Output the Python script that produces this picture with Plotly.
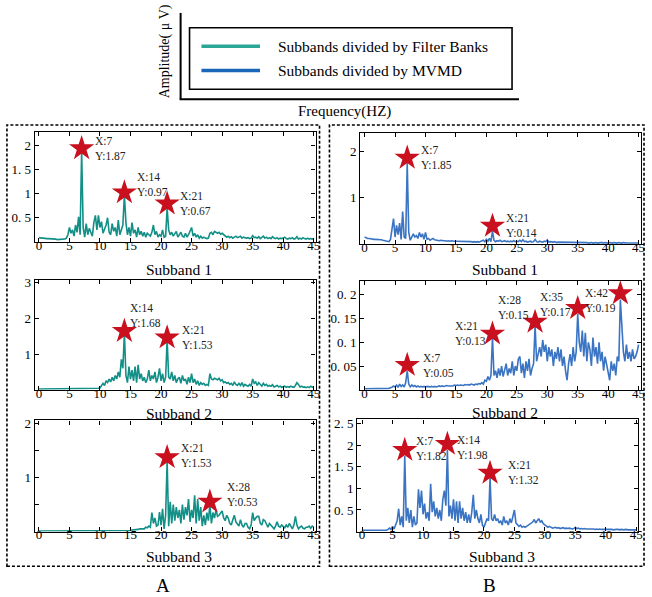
import numpy as np
import plotly.graph_objects as go

# ---------------- data ----------------
freq = np.arange(0, 45.01, 0.25)  # frequency bins (Hz)

fb_sub1 = [
    0.09, 0.08, 0.08, 0.08,  0.07, 0.07, 0.07, 0.07,  0.06, 0.06, 0.06, 0.06,
    0.05, 0.05, 0.05, 0.05,  0.05, 0.06, 0.08, 0.15,  0.30, 0.18, 0.25, 0.12,
    0.35, 0.20, 0.52, 0.15,  1.87, 0.30, 0.10, 0.38,  0.15, 0.28, 0.20, 0.12,
    0.40, 0.55, 0.25, 0.55,  0.30, 0.42, 0.18, 0.25,  0.35, 0.50, 0.20, 0.15,
    0.38, 0.22, 0.30, 0.12,  0.45, 0.15, 0.28, 0.35,  0.97, 0.40, 0.15, 0.30,
    0.12, 0.40, 0.18, 0.25,  0.10, 0.30, 0.15, 0.22,  0.12, 0.20, 0.10, 0.18,
    0.15, 0.12, 0.20, 0.35,  0.15, 0.22, 0.10, 0.15,  0.12, 0.25, 0.10, 0.12,
    0.70, 0.25, 0.15, 0.20,  0.12, 0.18, 0.22, 0.10,  0.15, 0.20, 0.12, 0.10,
    0.18, 0.10, 0.15, 0.22,  0.30, 0.12, 0.18, 0.10,  0.15, 0.08, 0.12, 0.08,
    0.10, 0.08, 0.07, 0.08,  0.18, 0.20, 0.15, 0.22,  0.20, 0.18, 0.20, 0.16,
    0.18, 0.15, 0.12, 0.10,  0.12, 0.09, 0.11, 0.08,  0.10, 0.12, 0.09, 0.10,
    0.12, 0.08, 0.10, 0.09,  0.08, 0.09, 0.07, 0.08,  0.13, 0.09, 0.10, 0.08,
    0.11, 0.07, 0.09, 0.12,  0.08, 0.10, 0.07, 0.09,  0.07, 0.11, 0.08, 0.07,
    0.09, 0.06, 0.08, 0.07,  0.08, 0.10, 0.07, 0.06,  0.08, 0.07, 0.09, 0.06,
    0.07, 0.11, 0.06, 0.08,  0.06, 0.09, 0.07, 0.06,  0.08, 0.06, 0.07, 0.06,
    0.07,
]

fb_sub2 = [
    0.02, 0.02, 0.02, 0.02,  0.02, 0.02, 0.02, 0.02,  0.02, 0.02, 0.02, 0.02,
    0.02, 0.02, 0.02, 0.02,  0.02, 0.02, 0.02, 0.02,  0.02, 0.02, 0.02, 0.02,
    0.02, 0.02, 0.02, 0.02,  0.02, 0.02, 0.02, 0.02,  0.02, 0.02, 0.02, 0.02,
    0.02, 0.03, 0.03, 0.04,  0.05, 0.10, 0.18, 0.12,  0.25, 0.20, 0.30, 0.22,
    0.35, 0.25, 0.40, 0.30,  0.50, 0.35, 0.85, 0.60,  1.58, 0.40, 0.20, 0.65,
    0.30, 0.55, 0.25, 0.65,  0.20, 0.70, 0.30, 0.45,  0.25, 0.35, 0.20, 0.30,
    0.55, 0.25, 0.40, 0.30,  0.50, 0.20, 0.35, 0.60,  0.25, 0.45, 0.20, 0.35,
    1.40, 0.35, 0.30, 0.50,  0.25, 0.40, 0.20, 0.30,  0.35, 0.18, 0.40, 0.25,
    0.30, 0.15, 0.35, 0.20,  0.45, 0.20, 0.30, 0.15,  0.25, 0.12, 0.20, 0.15,
    0.18, 0.12, 0.15, 0.12,  0.45, 0.30, 0.28, 0.32,  0.30, 0.28, 0.32, 0.25,
    0.28, 0.20, 0.22, 0.18,  0.20, 0.15, 0.18, 0.12,  0.22, 0.15, 0.12, 0.18,
    0.12, 0.20, 0.10, 0.15,  0.12, 0.10, 0.15, 0.10,  0.30, 0.18, 0.22, 0.12,
    0.20, 0.15, 0.10, 0.18,  0.12, 0.15, 0.10, 0.12,  0.10, 0.14, 0.08, 0.10,
    0.12, 0.08, 0.10, 0.07,  0.08, 0.10, 0.07, 0.09,  0.07, 0.10, 0.08, 0.07,
    0.12, 0.20, 0.15, 0.08,  0.10, 0.07, 0.08, 0.06,  0.08, 0.06, 0.10, 0.07,
    0.08,
]

fb_sub3 = [
    0.01, 0.01, 0.01, 0.01,  0.01, 0.01, 0.01, 0.01,  0.01, 0.01, 0.01, 0.01,
    0.01, 0.01, 0.01, 0.01,  0.01, 0.01, 0.01, 0.01,  0.01, 0.01, 0.01, 0.01,
    0.01, 0.01, 0.01, 0.01,  0.01, 0.01, 0.01, 0.01,  0.01, 0.01, 0.01, 0.01,
    0.01, 0.01, 0.01, 0.01,  0.01, 0.01, 0.01, 0.01,  0.01, 0.01, 0.01, 0.01,
    0.01, 0.01, 0.01, 0.01,  0.01, 0.01, 0.02, 0.02,  0.02, 0.02, 0.02, 0.02,
    0.02, 0.03, 0.03, 0.03,  0.04, 0.04, 0.05, 0.05,  0.06, 0.05, 0.08, 0.07,
    0.10, 0.08, 0.35, 0.15,  0.25, 0.10, 0.12, 0.36,  0.12, 0.42, 0.05, 0.30,
    1.30, 0.10, 0.55, 0.15,  0.50, 0.20, 0.45, 0.25,  0.40, 0.15, 0.50, 0.22,
    0.45, 0.30, 0.60, 0.18,  0.40, 0.25, 0.67, 0.15,  0.60, 0.20, 0.45, 0.10,
    0.30, 0.12, 0.35, 0.20,  0.50, 0.15, 0.35, 0.25,  0.40, 0.28, 0.30, 0.35,
    0.38, 0.25, 0.20, 0.30,  0.25, 0.15, 0.12, 0.22,  0.30, 0.18, 0.15, 0.10,
    0.22, 0.12, 0.08, 0.15,  0.15, 0.08, 0.05, 0.12,  0.35, 0.20, 0.25, 0.28,
    0.28, 0.15, 0.12, 0.22,  0.20, 0.12, 0.08, 0.15,  0.12, 0.08, 0.05, 0.10,
    0.18, 0.10, 0.08, 0.12,  0.10, 0.07, 0.12, 0.08,  0.15, 0.10, 0.05, 0.12,
    0.28, 0.12, 0.05, 0.08,  0.10, 0.06, 0.05, 0.08,  0.08, 0.10, 0.06, 0.10,
    0.08,
]

mv_sub1 = [
    0.15, 0.13, 0.12, 0.12,  0.11, 0.11, 0.10, 0.10,  0.10, 0.10, 0.09, 0.09,
    0.08, 0.07, 0.06, 0.05,  0.05, 0.10, 0.30, 0.55,  0.15, 0.40, 0.20, 0.45,
    0.10, 0.70, 0.15, 0.12,  1.75, 0.25, 0.08, 0.15,  0.22, 0.15, 0.18, 0.12,
    0.25, 0.15, 0.22, 0.10,  0.25, 0.10, 0.12, 0.08,  0.10, 0.12, 0.09, 0.08,
    0.08, 0.07, 0.08, 0.07,  0.07, 0.07, 0.06, 0.07,  0.06, 0.07, 0.06, 0.06,
    0.06, 0.06, 0.05, 0.06,  0.05, 0.06, 0.05, 0.05,  0.05, 0.06, 0.05, 0.04,
    0.05, 0.04, 0.05, 0.04,  0.05, 0.06, 0.08, 0.05,  0.10, 0.06, 0.12, 0.05,
    0.28, 0.08, 0.05, 0.07,  0.06, 0.08, 0.05, 0.06,  0.07, 0.05, 0.06, 0.05,
    0.06, 0.05, 0.07, 0.05,  0.06, 0.05, 0.08, 0.05,  0.09, 0.05, 0.06, 0.04,
    0.05, 0.06, 0.04, 0.05,  0.10, 0.05, 0.04, 0.06,  0.05, 0.04, 0.06, 0.05,
    0.09, 0.04, 0.05, 0.04,  0.04, 0.05, 0.03, 0.04,  0.04, 0.03, 0.04, 0.03,
    0.04, 0.03, 0.03, 0.04,  0.03, 0.03, 0.04, 0.03,  0.04, 0.03, 0.03, 0.03,
    0.03, 0.03, 0.03, 0.02,  0.03, 0.03, 0.02, 0.03,  0.03, 0.02, 0.03, 0.03,
    0.03, 0.02, 0.03, 0.02,  0.02, 0.03, 0.02, 0.02,  0.03, 0.02, 0.02, 0.03,
    0.02, 0.02, 0.03, 0.02,  0.02, 0.02, 0.02, 0.02,  0.02, 0.02, 0.02, 0.02,
    0.02,
]

mv_sub2 = [
    0.002, 0.002, 0.002, 0.002,  0.002, 0.002, 0.002, 0.002,  0.002, 0.002, 0.002, 0.002,
    0.002, 0.002, 0.003, 0.003,  0.003, 0.004, 0.005, 0.008,  0.006, 0.010, 0.005, 0.012,
    0.007, 0.010, 0.006, 0.015,  0.040, 0.012, 0.006, 0.010,  0.007, 0.009, 0.006, 0.008,
    0.006, 0.007, 0.006, 0.007,  0.006, 0.007, 0.006, 0.006,  0.007, 0.006, 0.007, 0.006,
    0.007, 0.008, 0.007, 0.008,  0.007, 0.008, 0.009, 0.008,  0.008, 0.009, 0.008, 0.010,
    0.009, 0.010, 0.009, 0.010,  0.010, 0.009, 0.011, 0.010,  0.011, 0.010, 0.012, 0.011,
    0.010, 0.012, 0.011, 0.013,  0.012, 0.015, 0.012, 0.020,  0.018, 0.028, 0.020, 0.030,
    0.110, 0.030, 0.040, 0.025,  0.045, 0.030, 0.050, 0.028,  0.040, 0.055, 0.030, 0.045,
    0.035, 0.060, 0.030, 0.050,  0.040, 0.065, 0.070, 0.035,  0.055, 0.025, 0.060, 0.040,
    0.065, 0.030, 0.045, 0.055,  0.135, 0.060, 0.075, 0.090,  0.070, 0.105, 0.080, 0.095,
    0.060, 0.090, 0.070, 0.085,  0.050, 0.080, 0.065, 0.090,  0.060, 0.085, 0.050, 0.070,
    0.040, 0.020, 0.055, 0.075,  0.050, 0.090, 0.060, 0.080,  0.160, 0.100, 0.080, 0.125,
    0.070, 0.120, 0.060, 0.100,  0.085, 0.050, 0.110, 0.070,  0.090, 0.055, 0.100, 0.060,
    0.080, 0.040, 0.070, 0.050,  0.035, 0.020, 0.060, 0.040,  0.055, 0.030, 0.070, 0.060,
    0.190, 0.120, 0.080, 0.060,  0.095, 0.065, 0.080, 0.060,  0.085, 0.065, 0.070, 0.080,
    0.095,
]

mv_sub3 = [
    0.03, 0.03, 0.02, 0.02,  0.02, 0.02, 0.02, 0.02,  0.02, 0.02, 0.02, 0.02,
    0.02, 0.02, 0.02, 0.03,  0.03, 0.05, 0.08, 0.05,  0.12, 0.06, 0.15, 0.25,
    0.53, 0.15, 0.35, 0.10,  1.75, 0.25, 0.55, 0.20,  0.50, 0.10, 0.35, 0.15,
    0.20, 0.98, 0.55, 0.95,  0.40, 0.65, 0.30, 0.45,  0.25, 1.11, 0.45, 0.70,
    0.35, 0.55, 0.30, 0.50,  0.25, 0.75, 0.95, 0.60,  1.90, 0.35, 0.60, 0.30,
    0.75, 0.25, 0.70, 0.20,  0.70, 0.30, 0.55, 0.25,  0.45, 0.20, 0.40, 0.20,
    0.45, 0.85, 0.30, 0.50,  0.30, 0.20, 0.40, 0.15,  0.10, 0.20, 0.30, 0.25,
    1.25, 0.30, 0.25, 0.40,  0.25, 0.30, 0.20, 0.25,  0.15, 0.35, 0.20, 0.25,
    0.15, 0.30, 0.20, 0.35,  0.50, 0.20, 0.15, 0.12,  0.15, 0.10, 0.12, 0.10,
    0.12, 0.15, 0.18, 0.20,  0.22, 0.28, 0.20, 0.25,  0.30, 0.22, 0.25, 0.18,
    0.15, 0.12, 0.10, 0.12,  0.10, 0.08, 0.09, 0.10,  0.08, 0.09, 0.07, 0.08,
    0.09, 0.07, 0.08, 0.07,  0.08, 0.07, 0.06, 0.07,  0.10, 0.07, 0.08, 0.06,
    0.07, 0.06, 0.07, 0.06,  0.06, 0.07, 0.06, 0.06,  0.06, 0.05, 0.06, 0.05,
    0.06, 0.05, 0.05, 0.06,  0.05, 0.05, 0.05, 0.05,  0.05, 0.04, 0.05, 0.05,
    0.05, 0.04, 0.05, 0.04,  0.04, 0.05, 0.04, 0.04,  0.04, 0.04, 0.04, 0.04,
    0.04,
]

# marked peaks: frequency, marker height (as drawn), label values
fb1_peak_x = [7, 14, 21];          fb1_peak_y = [1.93, 1.02, 0.79]; fb1_lab = ["1.87", "0.97", "0.67"]
fb2_peak_x = [14, 21];             fb2_peak_y = [1.64, 1.46];       fb2_lab = ["1.68", "1.53"]
fb3_peak_x = [21, 28];             fb3_peak_y = [1.37, 0.55];       fb3_lab = ["1.53", "0.53"]
mv1_peak_x = [7, 21];              mv1_peak_y = [1.86, 0.39];       mv1_lab = ["1.85", "0.14"]
mv2_peak_x = [7, 21, 28, 35, 42];  mv2_peak_y = [0.052, 0.118, 0.143, 0.172, 0.203]
mv2_lab = ["0.05", "0.13", "0.15", "0.17", "0.19"]
mv3_peak_x = [7, 14, 21];          mv3_peak_y = [1.89, 2.03, 1.36]; mv3_lab = ["1.82", "1.98", "1.32"]

x_ticks = [0, 5, 10, 15, 20, 25, 30, 35, 40, 45]
subband_titles = ["Subband 1", "Subband 2", "Subband 3"]
legend_labels = ["Subbands divided by Filter Banks", "Subbands divided by MVMD"]

# ---------------- styling / layout ----------------
W, H = 652, 597
TEAL = "#128f87"
BLUE = "#3a74c2"
STAR = "#c8101e"
SERIF = "Liberation Serif, Times New Roman, serif"

def px(x):
    return x / W

def py(y):
    return 1 - y / H

panels = [
    dict(box=(35, 128, 318, 239), xr=[-0.68, 45.3], yr=[0, 2.27], ytv=[0.5, 1, 1.5, 2],
         ytt=["0. 5", "1", "1. 5", "2"], y=fb_sub1, c=TEAL, px_=fb1_peak_x, py_=fb1_peak_y,
         lab=fb1_lab, title=subband_titles[0], ty=267,
         offs=[(11, 0, "left"), (11, 8, "left"), (11, 0, "left")]),
    dict(box=(35, 277, 318, 388), xr=[-0.68, 45.3], yr=[0, 3.08], ytv=[1, 2, 3],
         ytt=["1", "2", "3"], y=fb_sub2, c=TEAL, px_=fb2_peak_x, py_=fb2_peak_y,
         lab=fb2_lab, title=subband_titles[1], ty=412,
         offs=[(4, 16, "left"), (13, 0, "left")]),
    dict(box=(35, 419, 318, 531), xr=[-0.68, 45.3], yr=[0, 2.05], ytv=[0.5, 1, 1.5, 2],
         ytt=["", "1", "", "2"], y=fb_sub3, c=TEAL, px_=fb3_peak_x, py_=fb3_peak_y,
         lab=fb3_lab, title=subband_titles[2], ty=556,
         offs=[(12, 2, "left"), (15, 7, "left")]),
    dict(box=(363, 129, 646, 241), xr=[-0.72, 45.4], yr=[0, 2.4], ytv=[1, 2],
         ytt=["1", "2"], y=mv_sub1, c=BLUE, px_=mv1_peak_x, py_=mv1_peak_y,
         lab=mv1_lab, title=subband_titles[0], ty=267,
         offs=[(12, 0, "left"), (12, 0, "left")]),
    dict(box=(363, 278, 646, 388), xr=[-0.72, 45.4], yr=[0, 0.23],
         ytv=[0.05, 0.1, 0.15, 0.2], ytt=["0. 05", "0. 1", "0. 15", "0. 2"], y=mv_sub2, c=BLUE,
         px_=mv2_peak_x, py_=mv2_peak_y, lab=mv2_lab, title=subband_titles[1], ty=411,
         offs=[(14, 0, "left"), (-4, 0, "right"), (-4, 14, "right"), (-5, 4, "right"), (-2, -7, "right")]),
    dict(box=(360, 418, 643, 531), xr=[-0.8, 45.3], yr=[0, 2.6],
         ytv=[0.5, 1, 1.5, 2, 2.5], ytt=["0. 5", "1", "1. 5", "2", "2. 5"], y=mv_sub3, c=BLUE,
         px_=mv3_peak_x, py_=mv3_peak_y, lab=mv3_lab, title=subband_titles[2], ty=556,
         offs=[(9, 2, "left"), (8, -3, "left"), (16, 0, "left")]),
]

fig = go.Figure()
annotations = []
shapes = []
layout_axes = {}

for i, p in enumerate(panels, start=1):
    x0, y0, x1, y1 = p["box"]
    xa = "x" if i == 1 else f"x{i}"
    ya = "y" if i == 1 else f"y{i}"
    axis_common = dict(showline=True, linecolor="black", linewidth=1.3, mirror="ticks",
                       ticks="inside", ticklen=4, tickwidth=1, tickcolor="black",
                       showgrid=False, zeroline=False,
                       tickfont=dict(family=SERIF, size=13, color="black"))
    layout_axes["xaxis" if i == 1 else f"xaxis{i}"] = dict(
        domain=[px(x0), px(x1)], range=p["xr"], anchor=ya, ticklabelstandoff=-9,
        tickvals=x_ticks, ticktext=[str(t) for t in x_ticks], **axis_common)
    layout_axes["yaxis" if i == 1 else f"yaxis{i}"] = dict(
        domain=[py(y1), py(y0)], range=p["yr"], anchor=xa,
        tickvals=p["ytv"], ticktext=p["ytt"], **axis_common)

    fig.add_trace(go.Scatter(x=freq, y=p["y"], mode="lines", xaxis=xa, yaxis=ya,
                             line=dict(color=p["c"], width=1.6), hoverinfo="skip"))
    fig.add_trace(go.Scatter(x=p["px_"], y=p["py_"], mode="markers", xaxis=xa, yaxis=ya,
                             marker=dict(symbol="star", size=19, color=STAR,
                                         line=dict(width=0)), hoverinfo="skip"))
    for k, (fx, fy, lv) in enumerate(zip(p["px_"], p["py_"], p["lab"])):
        dx, dy, anc = p["offs"][k]
        annotations.append(dict(
            x=fx, y=fy, xref=xa, yref=ya, text=f"X:{fx}<br>Y:{lv}", showarrow=False,
            xanchor=anc, yanchor="middle", xshift=dx, yshift=dy, align="left",
            font=dict(family=SERIF, size=11.5, color="#222")))
    annotations.append(dict(
        x=px((x0 + x1) / 2 + 4), y=py(p["ty"]), xref="paper", yref="paper",
        text=p["title"], showarrow=False, xanchor="center", yanchor="middle",
        font=dict(family=SERIF, size=15.5, color="black")))

# dotted group frames
for (bx0, by0, bx1, by1) in [(7, 121, 322, 566), (332, 121, 649, 566)]:
    shapes.append(dict(type="rect", xref="paper", yref="paper",
                       x0=px(bx0), x1=px(bx1), y0=py(by1), y1=py(by0),
                       line=dict(color="black", width=1.6, dash="3px,2px")))

# group labels
for lbl, cx in [("A", 164), ("B", 493)]:
    annotations.append(dict(x=px(cx), y=py(585), xref="paper", yref="paper", text=lbl,
                            showarrow=False, xanchor="center", yanchor="middle",
                            font=dict(family=SERIF, size=19, color="black")))

# top schematic legend
shapes.append(dict(type="line", xref="paper", yref="paper", x0=px(182), x1=px(182),
                   y0=py(95), y1=py(8), line=dict(color="black", width=2)))
shapes.append(dict(type="line", xref="paper", yref="paper", x0=px(181), x1=px(523),
                   y0=py(95), y1=py(95), line=dict(color="black", width=2)))
shapes.append(dict(type="rect", xref="paper", yref="paper", x0=px(191), x1=px(516),
                   y0=py(85), y1=py(23), line=dict(color="black", width=1.6)))
for lab, col, ly in [(legend_labels[0], "#2aa596", 41.5), (legend_labels[1], "#1a66b8", 66)]:
    shapes.append(dict(type="line", xref="paper", yref="paper", x0=px(203), x1=px(262),
                       y0=py(ly), y1=py(ly), line=dict(color=col, width=3.5)))
    annotations.append(dict(x=px(278), y=py(ly), xref="paper", yref="paper", text=lab,
                            showarrow=False, xanchor="left", yanchor="middle",
                            font=dict(family=SERIF, size=15.5, color="black")))

annotations.append(dict(x=px(166), y=py(47), xref="paper", yref="paper",
                        text="Amplitude( μ V)", textangle=-90, showarrow=False,
                        xanchor="center", yanchor="middle",
                        font=dict(family=SERIF, size=14, color="black")))
annotations.append(dict(x=px(347), y=py(107), xref="paper", yref="paper",
                        text="Frequency(HZ)", showarrow=False,
                        xanchor="center", yanchor="middle",
                        font=dict(family=SERIF, size=15, color="black")))

fig.update_layout(width=W, height=H, margin=dict(l=0, r=0, t=0, b=0),
                  paper_bgcolor="white", plot_bgcolor="white", showlegend=False,
                  annotations=annotations, shapes=shapes, **layout_axes)

fig.write_html("out.html")
